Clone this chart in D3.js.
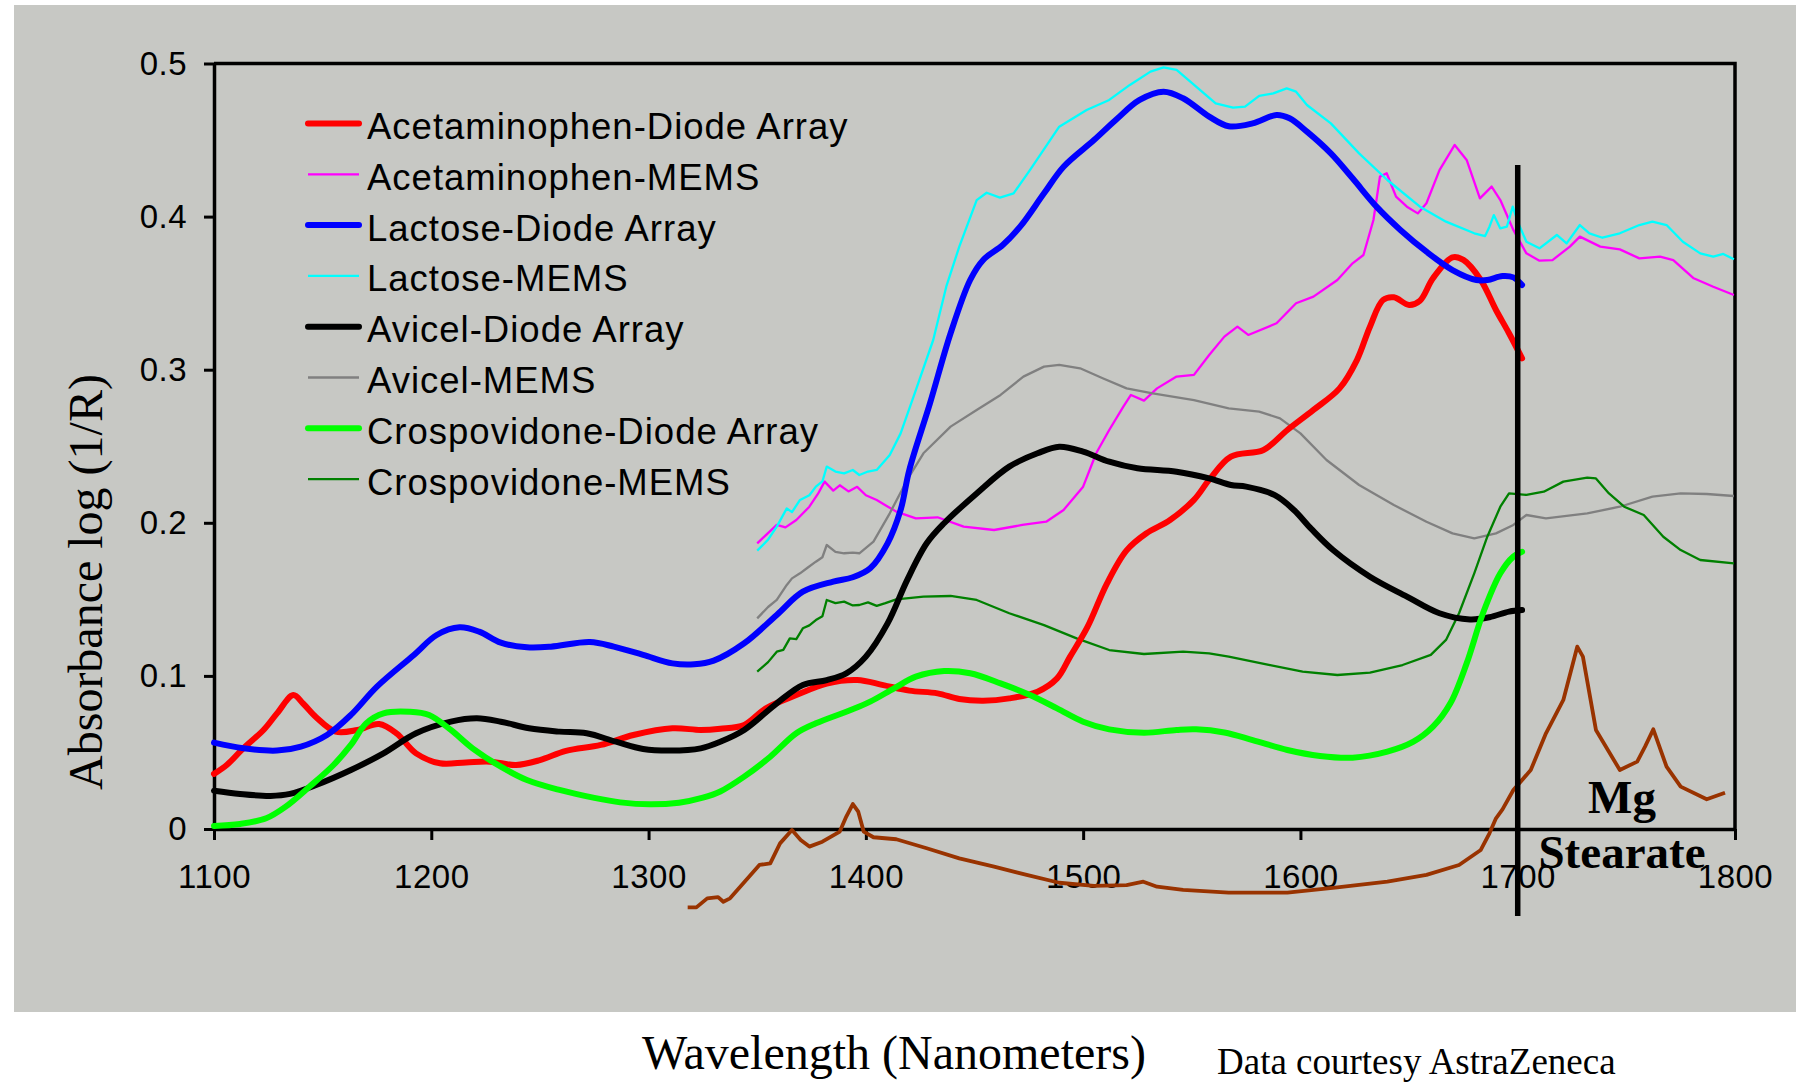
<!DOCTYPE html>
<html>
<head>
<meta charset="utf-8">
<script src="https://cdn.jsdelivr.net/npm/d3@7"></script>
<style>
  html, body { margin: 0; padding: 0; background: #fff; }
  svg { display: block; }
</style>
</head>
<body>
<div id="chart"></div>
<script>
// Spectra: [wavelength nm, absorbance]
const acetDiode = [[1100,0.036],[1106,0.042],[1113,0.052],[1123,0.065],[1129,0.0755],[1136.5,0.0875],[1141,0.082],[1147,0.073],[1156,0.0636],[1166,0.0647],[1176,0.0686],[1184,0.0625],[1193,0.0494],[1204,0.0429],[1216,0.0435],[1227,0.044],[1239,0.0418],[1250,0.045],[1262,0.051],[1278,0.0549],[1293,0.0614],[1311,0.0658],[1324,0.0647],[1333,0.0655],[1344,0.068],[1354,0.0788],[1368,0.0875],[1382,0.095],[1396,0.0973],[1408,0.094],[1420,0.0904],[1433,0.0886],[1443,0.0849],[1454,0.0838],[1466,0.0853],[1479,0.0897],[1488,0.0984],[1494,0.1126],[1502,0.132],[1511,0.1605],[1520,0.182],[1529,0.193],[1540,0.2018],[1551,0.215],[1558,0.228],[1568,0.2432],[1583,0.2476],[1594,0.2606],[1606,0.2737],[1618,0.2878],[1626,0.3063],[1632,0.3281],[1638,0.3455],[1643,0.3473],[1650,0.3423],[1655,0.3451],[1661,0.3597],[1670,0.3734],[1675,0.3717],[1683,0.3586],[1690,0.339],[1696,0.3238],[1702,0.3074]];

const acetMems = [[1350,0.1866],[1354,0.192],[1359,0.1986],[1363,0.197],[1368,0.2018],[1374,0.2105],[1378,0.219],[1381,0.2269],[1385,0.221],[1388,0.2245],[1392,0.2205],[1396,0.2235],[1400,0.218],[1405,0.2149],[1409,0.2115],[1414,0.2073],[1423,0.2029],[1433,0.2036],[1445,0.1975],[1459,0.1953],[1472,0.1986],[1483,0.2007],[1491,0.2084],[1500,0.2236],[1506,0.2454],[1512,0.2606],[1518.5,0.2759],[1522,0.2835],[1528,0.2798],[1534,0.2878],[1543,0.2955],[1551,0.2966],[1558,0.3096],[1565,0.3216],[1571,0.3281],[1576,0.3227],[1589,0.3303],[1598,0.3434],[1606,0.3477],[1617,0.3586],[1624,0.3695],[1629,0.3749],[1633.6,0.3978],[1636.6,0.4261],[1639.7,0.4283],[1644,0.413],[1649,0.4065],[1654,0.4021],[1658,0.4087],[1664,0.4304],[1671,0.4468],[1676.5,0.437],[1682.6,0.4119],[1688,0.4196],[1692,0.4108],[1698,0.3913],[1704,0.376],[1710,0.3712],[1716,0.3716],[1724,0.3804],[1728.6,0.3869],[1738,0.3804],[1747,0.3786],[1756,0.3727],[1765.5,0.3738],[1771.6,0.3716],[1781,0.3597],[1790,0.3542],[1799.5,0.3488]];

const lactDiode = [[1100,0.0564],[1113.5,0.0527],[1129,0.0512],[1140,0.0538],[1152,0.0614],[1163,0.0745],[1175,0.093],[1192,0.1137],[1202.5,0.1267],[1213,0.1317],[1222,0.1289],[1232,0.1217],[1244,0.1187],[1255,0.1191],[1273,0.1221],[1284,0.1191],[1297.5,0.1137],[1311,0.1082],[1321,0.1076],[1330,0.11],[1344,0.1213],[1359,0.1398],[1371,0.155],[1385,0.1616],[1394,0.1644],[1402,0.1703],[1410,0.1866],[1416,0.2084],[1420,0.2345],[1429.5,0.278],[1439,0.3238],[1448,0.3586],[1454,0.3717],[1463,0.3814],[1471,0.3934],[1482,0.4152],[1491,0.4326],[1505,0.45],[1515,0.4631],[1526,0.4762],[1537,0.4816],[1546,0.4773],[1558,0.4653],[1567,0.459],[1578,0.4609],[1589,0.4664],[1595,0.4642],[1603,0.4555],[1614,0.4413],[1624,0.425],[1635,0.4065],[1646,0.3913],[1658,0.3771],[1670,0.3651],[1681,0.3586],[1686,0.3586],[1693,0.3612],[1698,0.3603],[1702,0.3553]];

const lactMems = [[1350,0.1818],[1355,0.189],[1359,0.1975],[1363.6,0.2094],[1366,0.207],[1369.7,0.2149],[1374,0.218],[1377,0.2236],[1380,0.227],[1382,0.2367],[1386,0.2335],[1390,0.2323],[1394,0.2345],[1397,0.2312],[1401,0.2335],[1405,0.2345],[1411,0.2443],[1416,0.2584],[1423,0.2867],[1431,0.3194],[1437,0.3542],[1443,0.3804],[1451,0.4108],[1455.6,0.4156],[1461.7,0.4124],[1468,0.4152],[1475.5,0.4304],[1489,0.4587],[1501.6,0.4696],[1512,0.4762],[1521.5,0.486],[1531,0.4947],[1537,0.4975],[1543,0.4958],[1552,0.4849],[1561,0.474],[1569,0.4712],[1574.5,0.4718],[1581,0.4788],[1587.5,0.4805],[1593.7,0.4838],[1598,0.4816],[1603,0.4729],[1614,0.4609],[1627,0.4413],[1640,0.4239],[1655,0.4065],[1667,0.3967],[1680,0.3891],[1685,0.3873],[1687,0.3934],[1689,0.401],[1692,0.3923],[1695,0.3934],[1697.7,0.4065],[1700.3,0.3956],[1704,0.3836],[1710,0.3793],[1718,0.388],[1722.5,0.3825],[1728.6,0.3945],[1733,0.3891],[1739,0.3862],[1747,0.3891],[1756,0.3945],[1762,0.3967],[1768.5,0.3945],[1776,0.3836],[1784,0.376],[1790,0.3738],[1794.6,0.3756],[1799.5,0.3721]];

const aviDiode = [[1100,0.025],[1112,0.0229],[1126,0.0216],[1135,0.0229],[1147,0.0287],[1163,0.0385],[1178,0.0494],[1193,0.0625],[1209,0.0701],[1221,0.0723],[1232,0.0701],[1245,0.0658],[1259,0.0636],[1271.5,0.0625],[1285,0.057],[1297.5,0.0523],[1310,0.0512],[1324,0.0527],[1333,0.057],[1344,0.0647],[1359,0.0821],[1371,0.0941],[1382,0.0973],[1391,0.1017],[1400,0.1126],[1410,0.1343],[1419,0.1626],[1428,0.1866],[1436,0.1997],[1451,0.2192],[1466,0.2367],[1479,0.2454],[1489,0.2497],[1500,0.2465],[1512,0.2399],[1525,0.2356],[1543,0.2334],[1558,0.229],[1568,0.2247],[1575,0.2236],[1588,0.2182],[1597,0.2084],[1605,0.196],[1615,0.1822],[1632,0.1648],[1649,0.1518],[1664,0.1409],[1678,0.1369],[1687,0.1383],[1696,0.142],[1702,0.143]];

const aviMems = [[1350,0.1376],[1355,0.145],[1359,0.1496],[1363.6,0.1594],[1366,0.1637],[1369.7,0.167],[1373,0.1705],[1377,0.1746],[1380,0.1775],[1382,0.1855],[1386,0.181],[1390,0.1801],[1394,0.1805],[1397,0.1801],[1403.5,0.1877],[1411,0.2062],[1419,0.228],[1426.5,0.2454],[1439,0.2628],[1451,0.2737],[1462,0.2835],[1472.5,0.2955],[1482,0.302],[1489,0.3031],[1498.6,0.3009],[1509,0.2944],[1520,0.2878],[1532,0.2846],[1551,0.2802],[1567,0.2748],[1581,0.2726],[1590.6,0.2682],[1600,0.2584],[1612,0.241],[1627,0.2247],[1643,0.2116],[1658,0.2007],[1670,0.1931],[1680,0.1899],[1690,0.1931],[1698,0.1986],[1704,0.2051],[1713,0.2029],[1732,0.2062],[1747,0.2105],[1762,0.2171],[1775,0.2192],[1787,0.2188],[1799.5,0.2175]];

const crosDiode = [[1100,0.002],[1112,0.0033],[1124,0.007],[1133,0.0146],[1144,0.0277],[1155,0.0418],[1163,0.0549],[1170,0.069],[1178,0.0756],[1190,0.0766],[1199,0.0745],[1209,0.0647],[1219,0.0527],[1232,0.0407],[1244,0.032],[1259,0.0255],[1274.5,0.0205],[1287,0.0174],[1300.6,0.0161],[1314,0.0172],[1325,0.0205],[1333,0.0245],[1344,0.0342],[1356,0.0472],[1368,0.0625],[1377,0.069],[1393,0.0777],[1402,0.0832],[1413,0.0919],[1423,0.0995],[1436,0.1032],[1448,0.1017],[1462,0.0951],[1475.5,0.0875],[1488,0.0788],[1500,0.0701],[1512,0.0651],[1528,0.0629],[1543,0.0647],[1552,0.0651],[1565,0.063],[1578,0.0581],[1594,0.0516],[1609,0.0477],[1624,0.0466],[1640,0.0505],[1652,0.057],[1661,0.0668],[1669,0.0821],[1676.5,0.1082],[1684,0.1409],[1692,0.167],[1698,0.1779],[1702,0.1811]];

const crosMems = [[1350,0.1028],[1355,0.109],[1359,0.1158],[1362,0.117],[1365,0.1245],[1368,0.124],[1371,0.1311],[1374,0.133],[1377,0.1365],[1380,0.139],[1382,0.1496],[1386,0.1475],[1390,0.1485],[1394,0.146],[1397,0.1463],[1401,0.148],[1405,0.1457],[1409,0.1475],[1414,0.15],[1426.5,0.1518],[1439,0.1522],[1451,0.1496],[1466,0.1409],[1482,0.1332],[1497,0.1245],[1512,0.1169],[1528,0.1143],[1546,0.1158],[1558,0.1147],[1567,0.1126],[1586,0.1071],[1601,0.1028],[1617,0.1006],[1632,0.1021],[1647,0.1071],[1660,0.1137],[1667,0.1235],[1673,0.1409],[1680,0.167],[1686,0.1909],[1692,0.2105],[1696,0.2192],[1704,0.2182],[1712,0.2203],[1721,0.2269],[1732,0.2295],[1736,0.229],[1742,0.2192],[1749,0.2105],[1758,0.2051],[1767,0.1909],[1775,0.1822],[1784,0.1757],[1799.5,0.1735]];

// Mg stearate reference spectrum (offset, unlabelled in legend)
const mgStearate = [[1318,-0.0512],[1322,-0.0512],[1327,-0.0453],[1332,-0.0445],[1334.4,-0.0475],[1337.5,-0.0453],[1343.6,-0.0355],[1351,-0.0235],[1356,-0.0224],[1360.5,-0.0094],[1366,-0.0007],[1370,-0.0072],[1374,-0.0115],[1380,-0.0083],[1388,-0.0017],[1391,0.0081],[1394,0.0163],[1396.5,0.0113],[1399,-0.0017],[1403.5,-0.0054],[1414,-0.0067],[1428,-0.0126],[1443,-0.0192],[1459,-0.0246],[1474,-0.03],[1489,-0.0351],[1505,-0.0372],[1520,-0.0366],[1527.7,-0.0344],[1534,-0.0377],[1546,-0.0398],[1567,-0.0416],[1594,-0.0416],[1617,-0.0381],[1640,-0.0344],[1658,-0.03],[1673,-0.0235],[1683,-0.0137],[1687,-0.0028],[1690,0.007],[1693,0.0128],[1698,0.0255],[1706,0.0385],[1713,0.0625],[1721,0.0843],[1725,0.106],[1727.4,0.1191],[1730,0.1126],[1736,0.0647],[1747,0.0385],[1755,0.044],[1758.6,0.0538],[1762.4,0.0651],[1768.5,0.0407],[1775,0.0277],[1787,0.0194],[1795.4,0.0237]];

const xTicks = [1100, 1200, 1300, 1400, 1500, 1600, 1700, 1800];
const yTicks = [0, 0.1, 0.2, 0.3, 0.4, 0.5];

const seriesNames = ["Acetaminophen-Diode Array", "Acetaminophen-MEMS", "Lactose-Diode Array", "Lactose-MEMS",
  "Avicel-Diode Array", "Avicel-MEMS", "Crospovidone-Diode Array", "Crospovidone-MEMS"];
const seriesData = [acetDiode, acetMems, lactDiode, lactMems, aviDiode, aviMems, crosDiode, crosMems];
const seriesColors = ["#ff0000", "#ff00ff", "#0000ff", "#00ffff", "#000000", "#808080", "#00ff00", "#008000"];

const W = 1796, H = 1082;
const plotL = 214, plotR = 1735, plotT = 63.5, plotB = 829;
const sans = "'Liberation Sans', Arial, sans-serif";
const serif = "'Liberation Serif', 'Times New Roman', serif";

const svg = d3.select("#chart").append("svg")
  .attr("width", W)
  .attr("height", H);

// grey panel
svg.append("rect")
  .attr("x", 14).attr("y", 5)
  .attr("width", W - 14).attr("height", 1007)
  .attr("fill", "#c7c8c4");

const x = d3.scaleLinear().domain([1100, 1800]).range([plotL, plotR]);
const y = d3.scaleLinear().domain([0, 0.5]).range([plotB, plotT]);

// frame: top and right edges
svg.append("path")
  .attr("d", `M${plotL},${plotT}H${plotR}V${plotB}`)
  .attr("fill", "none").attr("stroke", "#000").attr("stroke-width", 3.5);

const xAxis = svg.append("g")
  .attr("transform", `translate(0,${plotB})`)
  .call(d3.axisBottom(x).tickValues(xTicks).tickFormat(d3.format("d"))
    .tickSize(11).tickSizeOuter(0).tickPadding(25));

const yAxis = svg.append("g")
  .attr("transform", `translate(${plotL},0)`)
  .call(d3.axisLeft(y).tickValues(yTicks)
    .tickFormat(d => d === 0 ? "0" : d3.format(".1f")(d))
    .tickSize(10).tickSizeOuter(0).tickPadding(17));

[xAxis, yAxis].forEach(g => {
  g.select(".domain").attr("stroke", "#000").attr("stroke-width", 3.5);
  g.selectAll(".tick line").attr("stroke", "#000").attr("stroke-width", 3);
  g.selectAll(".tick text")
    .attr("fill", "#000")
    .style("font-family", sans)
    .style("font-size", "33px")
    .style("letter-spacing", "0.5px");
});

// spectra
const line = d3.line()
  .x(d => x(d[0]))
  .y(d => y(d[1]));
const smooth = d3.line()
  .curve(d3.curveCatmullRom.alpha(0.5))
  .x(d => x(d[0]))
  .y(d => y(d[1]));

// thin MEMS traces underneath, thick diode array traces on top
seriesData.forEach((data, i) => {
  if (i % 2 === 1) {
    svg.append("path")
      .datum(data)
      .attr("d", line)
      .attr("fill", "none")
      .attr("stroke", seriesColors[i])
      .attr("stroke-width", 2.3)
      .attr("stroke-linejoin", "round");
  }
});

svg.append("path")
  .datum(mgStearate)
  .attr("d", line)
  .attr("fill", "none")
  .attr("stroke", "#993300")
  .attr("stroke-width", 3.8)
  .attr("stroke-linejoin", "round");

seriesData.forEach((data, i) => {
  if (i % 2 === 0) {
    svg.append("path")
      .datum(data)
      .attr("d", smooth)
      .attr("fill", "none")
      .attr("stroke", seriesColors[i])
      .attr("stroke-width", 6)
      .attr("stroke-linecap", "round")
      .attr("stroke-linejoin", "round");
  }
});

// marker line at 1700 nm
svg.append("line")
  .attr("x1", x(1700)).attr("x2", x(1700))
  .attr("y1", 165).attr("y2", 916)
  .attr("stroke", "#000").attr("stroke-width", 5.5);

// Mg Stearate label
svg.append("text")
  .attr("x", 1622).attr("y", 813)
  .attr("text-anchor", "middle")
  .style("font-family", serif).style("font-weight", "bold").style("font-size", "47px")
  .text("Mg");
svg.append("text")
  .attr("x", 1622).attr("y", 868)
  .attr("text-anchor", "middle")
  .style("font-family", serif).style("font-weight", "bold").style("font-size", "47px")
  .text("Stearate");

// legend
const legend = svg.append("g");
seriesNames.forEach((name, i) => {
  const ly = 123.5 + i * 50.8;
  legend.append("line")
    .attr("x1", 308).attr("x2", 359)
    .attr("y1", ly).attr("y2", ly)
    .attr("stroke", seriesColors[i])
    .attr("stroke-width", i % 2 === 0 ? 6 : 2.3)
    .attr("stroke-linecap", i % 2 === 0 ? "round" : "butt");
  legend.append("text")
    .attr("x", 367).attr("y", ly + 15.5)
    .style("font-family", sans).style("font-size", "36.5px")
    .style("letter-spacing", "1px")
    .text(name);
});

// axis titles
svg.append("text")
  .attr("transform", "translate(102,582) rotate(-90)")
  .attr("text-anchor", "middle")
  .style("font-family", serif).style("font-size", "48px")
  .text("Absorbance log (1/R)");

svg.append("text")
  .attr("x", 894).attr("y", 1069)
  .attr("text-anchor", "middle")
  .style("font-family", serif).style("font-size", "48px")
  .text("Wavelength (Nanometers)");

svg.append("text")
  .attr("x", 1217).attr("y", 1074)
  .style("font-family", serif).style("font-size", "37px")
  .text("Data courtesy AstraZeneca");
</script>
</body>
</html>
